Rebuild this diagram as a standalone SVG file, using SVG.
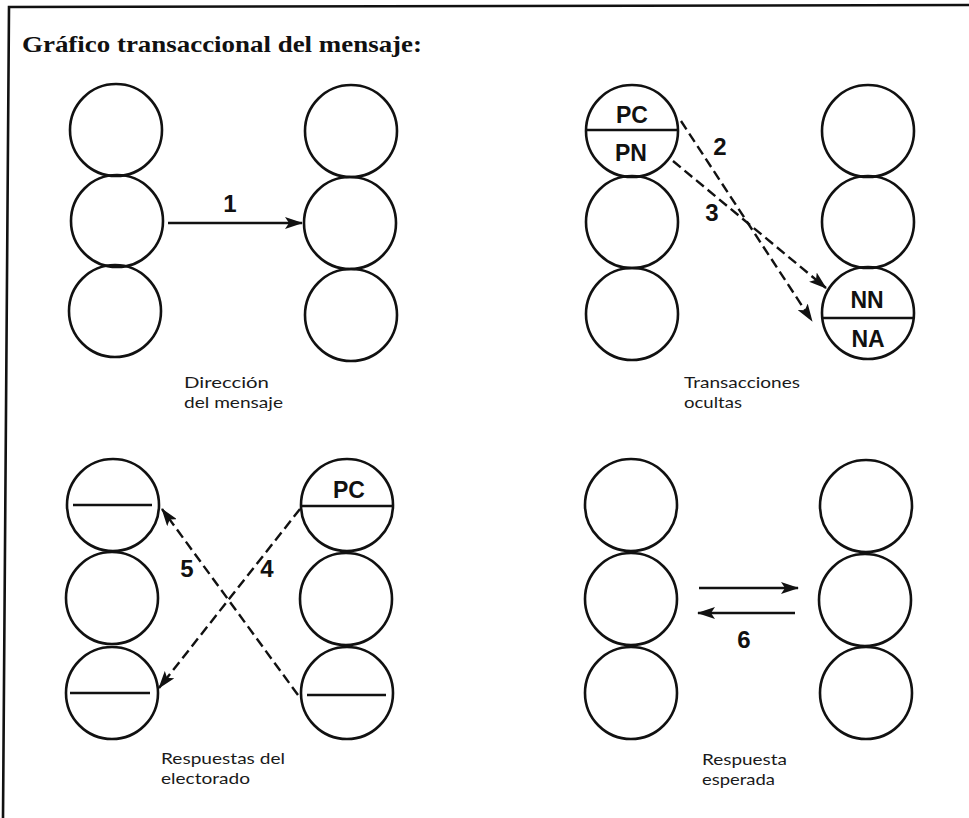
<svg xmlns="http://www.w3.org/2000/svg" width="969" height="818" viewBox="0 0 969 818">
  <style>
    .ring { fill: none; stroke: #111; stroke-width: 2.6; }
    .cut { stroke: #111; stroke-width: 2.4; }
    .solid { stroke: #111; stroke-width: 2.4; fill: none; }
    .dash { stroke: #111; stroke-width: 2.4; fill: none; stroke-dasharray: 10 5; }
    .num { font-family: "Liberation Sans", Arial, sans-serif; font-weight: bold; font-size: 24px; fill: #111; text-anchor: middle; }
    .tag { font-family: "Liberation Sans", Arial, sans-serif; font-weight: bold; font-size: 23px; fill: #111; text-anchor: middle; }
    .cap { font-family: "Lato", "Open Sans", sans-serif; font-size: 16px; fill: #1a1a1a; }
    .title { font-family: "Liberation Serif", "Times New Roman", serif; font-weight: bold; font-size: 23px; fill: #111; }
  </style>
  <defs>
    <marker id="head" viewBox="0 0 18 12" refX="17" refY="6" markerWidth="18" markerHeight="12" markerUnits="userSpaceOnUse" orient="auto">
      <path d="M0,0 L18,6 L0,12 L4,6 z" fill="#111"/>
    </marker>
  </defs>

  <rect x="0" y="0" width="969" height="818" fill="#ffffff"/>

  <!-- frame -->
  <polyline points="3,818 9,7 969,5" fill="none" stroke="#111" stroke-width="2.6"/>

  <text class="title" x="22" y="52" textLength="400" lengthAdjust="spacingAndGlyphs">Gráfico transaccional del mensaje:</text>

  <!-- Panel 1: message direction -->
  <g id="p1-left">
    <circle class="ring" cx="116" cy="130" r="46"/>
    <circle class="ring" cx="117" cy="221" r="46"/>
    <circle class="ring" cx="115" cy="311" r="46"/>
  </g>
  <g id="p1-right">
    <circle class="ring" cx="351" cy="131" r="46"/>
    <circle class="ring" cx="350" cy="223" r="46"/>
    <circle class="ring" cx="351" cy="315" r="46"/>
  </g>
  <text class="cap" x="184" y="387.5"><tspan x="184" y="387.5" textLength="85" lengthAdjust="spacingAndGlyphs">Dirección</tspan><tspan x="184" y="407.5" textLength="99" lengthAdjust="spacingAndGlyphs">del mensaje</tspan></text>

  <!-- Panel 2: hidden transactions -->
  <g id="p2-left">
    <circle class="ring" cx="632" cy="131" r="46"/>
    <line class="cut" x1="586" y1="130" x2="678" y2="130"/>
    <text class="tag" x="632" y="123">PC</text>
    <text class="tag" x="631" y="161">PN</text>
    <circle class="ring" cx="632" cy="222" r="46"/>
    <circle class="ring" cx="632" cy="314" r="46"/>
  </g>
  <g id="p2-right">
    <circle class="ring" cx="868" cy="131" r="46"/>
    <circle class="ring" cx="868" cy="222" r="46"/>
    <circle class="ring" cx="868" cy="313" r="46"/>
    <line class="cut" x1="822" y1="318" x2="914" y2="318"/>
    <text class="tag" x="867" y="308">NN</text>
    <text class="tag" x="868" y="347">NA</text>
  </g>
  <text class="cap" x="684" y="387.5"><tspan x="684" y="387.5" textLength="116" lengthAdjust="spacingAndGlyphs">Transacciones</tspan><tspan x="684" y="407.5" textLength="58" lengthAdjust="spacingAndGlyphs">ocultas</tspan></text>

  <!-- Panel 3: voter responses -->
  <g id="p3-left">
    <circle class="ring" cx="113" cy="505" r="46"/>
    <line class="cut" x1="73" y1="505" x2="152" y2="505"/>
    <circle class="ring" cx="112" cy="598" r="46"/>
    <circle class="ring" cx="112" cy="693" r="46"/>
    <line class="cut" x1="70" y1="693" x2="150" y2="693"/>
  </g>
  <g id="p3-right">
    <circle class="ring" cx="347" cy="505" r="46"/>
    <line class="cut" x1="301" y1="506" x2="393" y2="506"/>
    <text class="tag" x="349" y="498">PC</text>
    <circle class="ring" cx="346" cy="599" r="46"/>
    <circle class="ring" cx="347" cy="693" r="46"/>
    <line class="cut" x1="307" y1="695" x2="386" y2="695"/>
  </g>
  <text class="cap" x="161" y="764"><tspan x="161" y="764" textLength="124" lengthAdjust="spacingAndGlyphs">Respuestas del</tspan><tspan x="161" y="784" textLength="89" lengthAdjust="spacingAndGlyphs">electorado</tspan></text>

  <!-- Panel 4: expected response -->
  <g id="p4-left">
    <circle class="ring" cx="631" cy="505" r="46"/>
    <circle class="ring" cx="631" cy="599" r="46"/>
    <circle class="ring" cx="631" cy="693" r="46"/>
  </g>
  <g id="p4-right">
    <circle class="ring" cx="866" cy="506" r="46"/>
    <circle class="ring" cx="865" cy="600" r="46"/>
    <circle class="ring" cx="866" cy="693" r="46"/>
  </g>
  <text class="cap" x="702" y="765"><tspan x="702" y="765" textLength="85" lengthAdjust="spacingAndGlyphs">Respuesta</tspan><tspan x="702" y="785" textLength="73" lengthAdjust="spacingAndGlyphs">esperada</tspan></text>

  <!-- connectors -->
  <g id="connectors">
    <line class="solid" x1="168" y1="223" x2="302" y2="223" marker-end="url(#head)"/>
    <line class="dash" x1="681" y1="121" x2="812" y2="321" marker-end="url(#head)"/>
    <line class="dash" x1="673" y1="161" x2="826" y2="288" marker-end="url(#head)"/>
    <line class="dash" x1="300" y1="509" x2="159" y2="688" marker-end="url(#head)"/>
    <line class="dash" x1="298" y1="695" x2="162" y2="509" marker-end="url(#head)"/>
    <line class="solid" x1="699" y1="588" x2="798" y2="588" marker-end="url(#head)"/>
    <line class="solid" x1="795" y1="613" x2="698" y2="613" marker-end="url(#head)"/>
  </g>

  <!-- connector labels -->
  <text class="num" x="230" y="212">1</text>
  <text class="num" x="720" y="155">2</text>
  <text class="num" x="712" y="221">3</text>
  <text class="num" x="267" y="577">4</text>
  <text class="num" x="187" y="577">5</text>
  <text class="num" x="744" y="648">6</text>
</svg>
